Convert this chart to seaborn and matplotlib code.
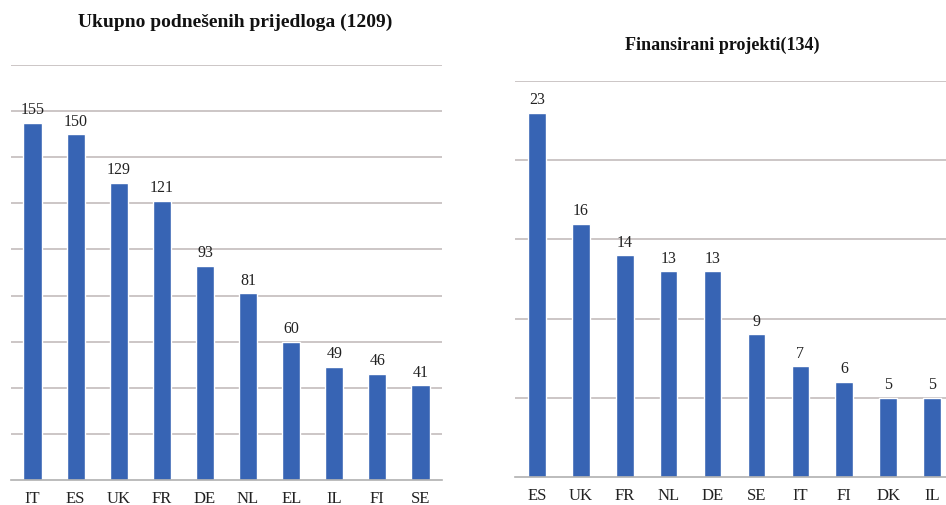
import matplotlib
matplotlib.use("Agg")
import matplotlib.pyplot as plt
import seaborn as sns
import pandas as pd
import numpy as np

left_countries = ["IT", "ES", "UK", "FR", "DE", "NL", "EL", "IL", "FI", "SE"]
left_values = [155, 150, 129, 121, 93, 81, 60, 49, 46, 41]
left_title = "Ukupno podnešenih prijedloga (1209)"

right_countries = ["ES", "UK", "FR", "NL", "DE", "SE", "IT", "FI", "DK", "IL"]
right_values = [23, 16, 14, 13, 13, 9, 7, 6, 5, 5]
right_title = "Finansirani projekti(134)"

sns.set_theme(style="white")
plt.rcParams["font.family"] = ["Liberation Serif", "DejaVu Serif"]

W, H = 946, 506
fig = plt.figure(figsize=(W / 100, H / 100), dpi=100)

bar_color = "#3764b4"
grid_color = "#c4bcbc"

def panel(rect, cats, vals, ymax, step, width):
    ax = fig.add_axes(rect)
    df = pd.DataFrame({"c": cats, "v": vals})
    sns.barplot(data=df, x="c", y="v", ax=ax, color=bar_color, width=width,
                saturation=1, order=cats)
    ax.set_ylim(0, ymax)
    ax.set_xlim(-0.5, len(cats) - 0.5)
    for y in np.arange(step, ymax + 0.01, step):
        ax.axhline(y, color=grid_color, lw=1.2, zorder=0)
    for s in ["top", "right", "left"]:
        ax.spines[s].set_visible(False)
    ax.spines["bottom"].set_color("#b0b0b0")
    ax.spines["bottom"].set_linewidth(1.2)
    ax.set_xlabel("")
    ax.set_ylabel("")
    ax.set_yticks([])
    ax.set_xticks(range(len(cats)))
    ax.set_xticklabels(cats, fontsize=12, color="#222222")
    ax.tick_params(axis="x", which="major", length=0, pad=7)
    ax.set_xticks(np.arange(-0.5, len(cats), 1), minor=True)
    ax.tick_params(axis="x", which="minor", length=5, color="#b0b0b0", width=1.2, direction="out")
    for i, v in enumerate(vals):
        ax.annotate(str(v), (i, v), xytext=(0, 4), textcoords="offset points",
                    ha="center", va="bottom", fontsize=11.5, color="#222222")
    ax.set_facecolor("none")
    return ax

panel([11 / W, (H - 481) / H, 431 / W, (481 - 66) / H], left_countries, left_values, 180, 20, 0.42)
panel([515 / W, (H - 478) / H, 439 / W, (478 - 82) / H], right_countries, right_values, 25, 5, 0.40)

fig.text(235 / W, 1 - 22 / H, left_title, ha="center", va="center", fontsize=14, fontweight="bold", color="#111111")
fig.text(722 / W, 1 - 45 / H, right_title, ha="center", va="center", fontsize=13, fontweight="bold", color="#111111")

fig.savefig("out.png", dpi=100)
